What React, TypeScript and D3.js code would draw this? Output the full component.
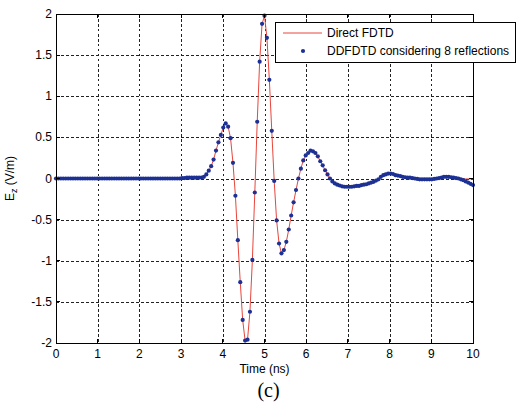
import * as d3 from "d3";

// samples are spaced evenly over 0..10 ns
const T_END = 10;

const xTicks = [0, 1, 2, 3, 4, 5, 6, 7, 8, 9, 10];
const yTicks = [-2, -1.5, -1, -0.5, 0, 0.5, 1, 1.5, 2];

// DDFDTD field samples (V/m)
const ddfdtd = [
  0, 0, 0, 0, 0, 0, 0, 0, 0, 0,
  0, 0, 0, 0, 0, 0, 0, 0, 0, 0,
  0, 0, 0, 0, 0, 0, 0, 0, 0, 0,
  0, 0, 0, 0, 0, 0, 0, 0, 0, 0,
  0, 0, 0, 0, 0, 0, 0, 0, 0, 0,
  0, 0, 0.005, 0.005, 0.01, 0.01, 0.01, 0.01, 0.01, 0.01,
  0.012, 0.02, 0.05, 0.095, 0.15, 0.23, 0.34, 0.44, 0.53, 0.62,
  0.67, 0.63, 0.49, 0.19, -0.21, -0.75, -1.26, -1.72, -1.97, -1.96,
  -1.62, -0.99, -0.17, 0.69, 1.42, 1.88, 1.98, 1.71, 1.2, 0.58,
  -0.03, -0.51, -0.79, -0.91, -0.87, -0.77, -0.62, -0.45, -0.29, -0.14,
  0.0, 0.12, 0.22, 0.28, 0.31, 0.34, 0.33, 0.31, 0.27, 0.21,
  0.16, 0.1, 0.05, 0.0, -0.035, -0.06, -0.075, -0.085, -0.095, -0.1,
  -0.1, -0.1, -0.1, -0.095, -0.09, -0.09, -0.08, -0.075, -0.07, -0.06,
  -0.05, -0.04, -0.025, -0.01, 0.02, 0.04, 0.05, 0.06, 0.06, 0.055,
  0.04, 0.035, 0.03, 0.02, 0.015, 0.01, 0.01, 0.005, 0.0, -0.005,
  -0.01, -0.01, -0.01, -0.01, -0.01, -0.01, -0.005, 0.0, 0.005, 0.01,
  0.02, 0.02, 0.02, 0.015, 0.01, 0.005, 0.0, -0.01, -0.02, -0.035,
  -0.05, -0.065, -0.08,
];

// reference FDTD field samples (V/m)
const directFdtd = [
  0, 0, 0, 0, 0, 0, 0, 0, 0, 0,
  0, 0, 0, 0, 0, 0, 0, 0, 0, 0,
  0, 0, 0, 0, 0, 0, 0, 0, 0, 0,
  0, 0, 0, 0, 0, 0, 0, 0, 0, 0,
  0, 0, 0, 0, 0, 0, 0, 0, 0, 0,
  0, 0, 0.005, 0.005, 0.01, 0.01, 0.01, 0.01, 0.01, 0.01,
  0.012, 0.02, 0.05, 0.095, 0.15, 0.23, 0.34, 0.44, 0.53, 0.62,
  0.67, 0.63, 0.49, 0.19, -0.21, -0.75, -1.26, -1.72, -1.97, -1.96,
  -1.62, -0.99, -0.17, 0.69, 1.42, 1.88, 1.98, 1.71, 1.2, 0.58,
  -0.03, -0.51, -0.79, -0.91, -0.87, -0.77, -0.62, -0.45, -0.29, -0.14,
  0.0, 0.12, 0.22, 0.28, 0.31, 0.34, 0.33, 0.31, 0.27, 0.21,
  0.16, 0.1, 0.05, 0.0, -0.035, -0.06, -0.075, -0.085, -0.095, -0.1,
  -0.1, -0.1, -0.1, -0.095, -0.09, -0.09, -0.08, -0.075, -0.07, -0.06,
  -0.05, -0.04, -0.025, -0.01, 0.02, 0.04, 0.05, 0.06, 0.06, 0.055,
  0.04, 0.035, 0.03, 0.02, 0.015, 0.01, 0.01, 0.005, 0.0, -0.005,
  -0.01, -0.01, -0.01, -0.01, -0.01, -0.01, -0.005, 0.0, 0.005, 0.01,
  0.02, 0.02, 0.02, 0.015, 0.01, 0.005, 0.0, -0.005, -0.005, -0.005,
  -0.005, -0.005, -0.005,
];

const legendItems = ["Direct FDTD", "DDFDTD considering 8 reflections"];

const W = 524;
const H = 402;
const margin = { top: 14, right: 51, bottom: 59, left: 56 };
const RED = "#e8463c";
const BLUE = "#1d3194";
const DOT_R = 2.1;
const FONT = "Liberation Sans, Arial, Helvetica, sans-serif";

const toPoints = (vals: number[]) =>
  vals.map((v, i) => ({ t: (i * T_END) / (vals.length - 1), v }));

export default function App() {
  const x = d3
    .scaleLinear()
    .domain([0, T_END])
    .range([margin.left, W - margin.right]);
  const y = d3
    .scaleLinear()
    .domain([-2, 2])
    .range([H - margin.bottom, margin.top]);

  const [x0, x1] = x.range();
  const [y0, y1] = y.range();

  const line = d3
    .line<{ t: number; v: number }>()
    .x((d) => x(d.t))
    .y((d) => y(d.v));

  const directPts = toPoints(directFdtd);
  const ddPts = toPoints(ddfdtd);

  const tick = 4;

  return (
    <svg
      width={W}
      height={H}
      style={{ position: "absolute", left: 0, top: 0, background: "#fff" }}
      fontFamily={FONT}
    >
      <rect x={0} y={0} width={W} height={H} fill="#fff" />

      {/* grid */}
      <g stroke="#222" strokeWidth={1} strokeDasharray="2.5,2.5" shapeRendering="crispEdges">
        {xTicks.slice(1, -1).map((t) => (
          <line key={"gx" + t} x1={Math.round(x(t)) + 0.5} x2={Math.round(x(t)) + 0.5} y1={y1} y2={y0} />
        ))}
        {yTicks.slice(1, -1).map((t) => (
          <line key={"gy" + t} x1={x0} x2={x1} y1={Math.round(y(t)) + 0.5} y2={Math.round(y(t)) + 0.5} />
        ))}
      </g>

      {/* series */}
      <path d={line(directPts) ?? ""} fill="none" stroke={RED} strokeWidth={1} />
      <g fill={BLUE}>
        {ddPts.map((d, i) => (
          <circle key={i} cx={x(d.t)} cy={y(d.v)} r={DOT_R} />
        ))}
      </g>

      {/* frame and tick marks */}
      <g stroke="#000" strokeWidth={1} shapeRendering="crispEdges">
        <rect x={x0} y={y1} width={x1 - x0} height={y0 - y1} fill="none" />
        {xTicks.map((t) => (
          <g key={"tx" + t}>
            <line x1={x(t)} x2={x(t)} y1={y0} y2={y0 - tick} />
            <line x1={x(t)} x2={x(t)} y1={y1} y2={y1 + tick} />
          </g>
        ))}
        {yTicks.map((t) => (
          <g key={"ty" + t}>
            <line x1={x0} x2={x0 + tick} y1={y(t)} y2={y(t)} />
            <line x1={x1} x2={x1 - tick} y1={y(t)} y2={y(t)} />
          </g>
        ))}
      </g>

      {/* tick labels */}
      <g fontSize={12} fill="#000">
        {xTicks.map((t) => (
          <text key={"lx" + t} x={x(t)} y={y0 + 15} textAnchor="middle">
            {t}
          </text>
        ))}
        {yTicks.map((t) => (
          <text key={"ly" + t} x={x0 - 4} y={y(t) + 4} textAnchor="end">
            {t}
          </text>
        ))}
      </g>

      {/* axis titles */}
      <text x={(x0 + x1) / 2} y={373} textAnchor="middle" fontSize={12}>
        Time (ns)
      </text>
      <text
        transform={`translate(14, ${(y0 + y1) / 2}) rotate(-90)`}
        textAnchor="middle"
        fontSize={12}
      >
        E
        <tspan fontSize={9} dy={3}>
          z
        </tspan>
        <tspan dy={-3}> (V/m)</tspan>
      </text>
      <text
        x={(x0 + x1) / 2 + 4}
        y={397}
        textAnchor="middle"
        fontSize={20}
        fontFamily="Liberation Serif, Times New Roman, serif"
      >
        (c)
      </text>

      {/* legend */}
      <g transform="translate(275, 22)">
        <rect x={0.5} y={0.5} width={240} height={40} fill="#fff" stroke="#000" />
        <line x1={8} x2={47} y1={11} y2={11} stroke={RED} strokeWidth={1} />
        <circle cx={28} cy={29} r={DOT_R} fill={BLUE} />
        <g fontSize={12}>
          <text x={52} y={15}>
            {legendItems[0]}
          </text>
          <text x={52} y={33}>
            {legendItems[1]}
          </text>
        </g>
      </g>
    </svg>
  );
}
